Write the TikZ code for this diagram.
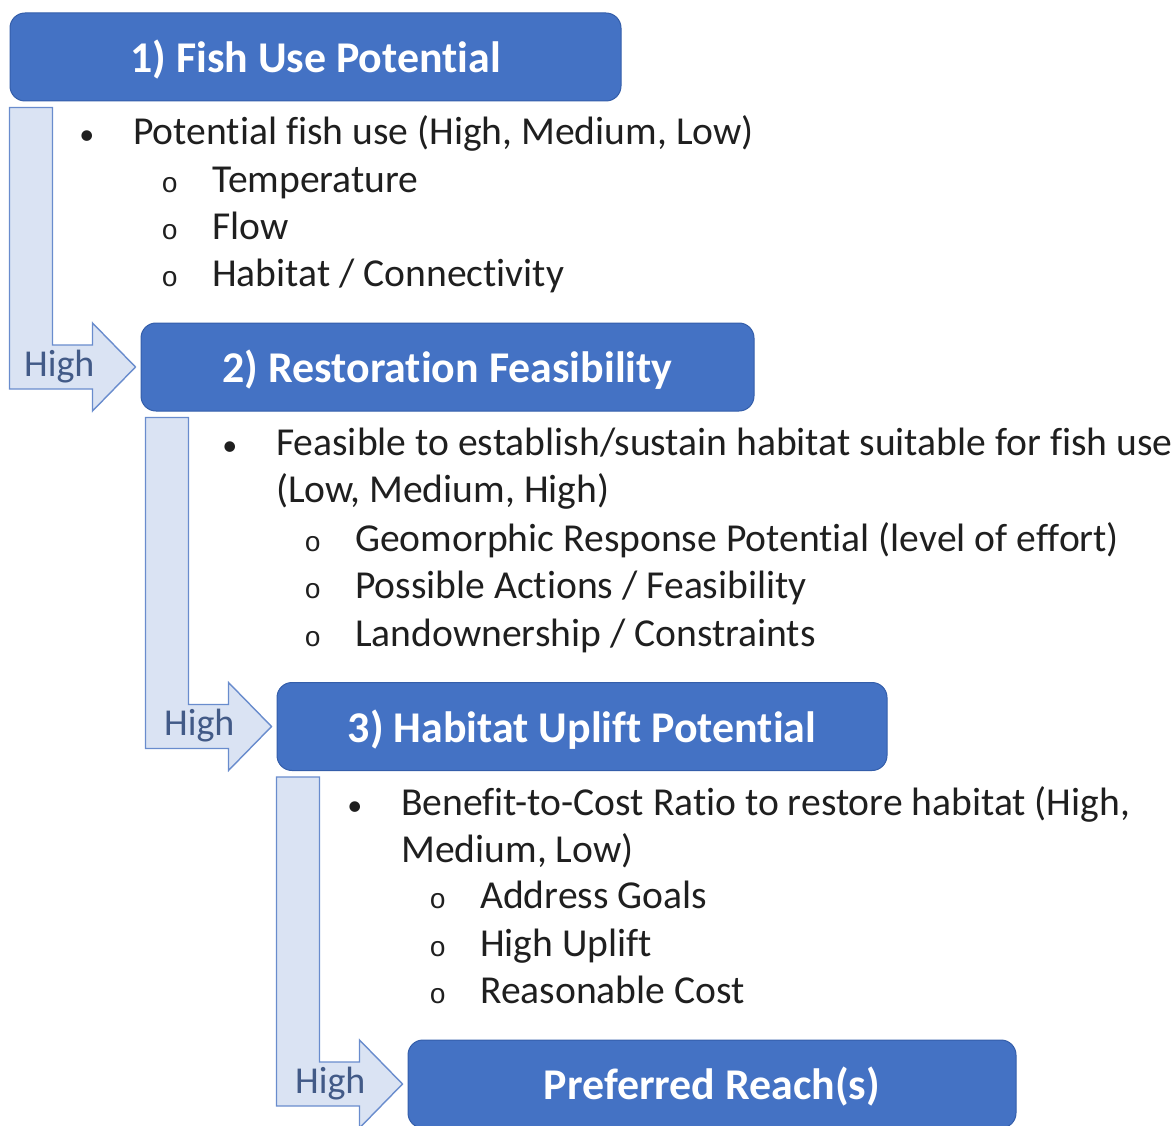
\documentclass[tikz,border=0pt]{standalone}
\usepackage{fontspec}
\setmainfont{Carlito}[Ligatures=NoCommon]
\newfontfamily\ringfont{Liberation Mono}
\usetikzlibrary{calc}

\definecolor{boxblue}{RGB}{68,114,196}
\definecolor{boxline}{RGB}{52,94,170}
\definecolor{barfill}{RGB}{218,227,243}
\definecolor{barline}{RGB}{105,140,205}
\definecolor{hightext}{RGB}{66,90,135}

% level-one and level-two list marks
\newcommand{\dotmark}{\llap{{\fontsize{30}{30}\selectfont\textbullet}\hspace{39pt}}}
\newcommand{\ringmark}{\llap{{\ringfont\fontsize{28}{28}\selectfont o}\hspace{34pt}}}

\begin{document}
\begin{tikzpicture}[x=1pt, y=-1pt]
\tikzstyle{stepbox} = [rectangle, rounded corners=15pt, minimum height=88pt, text height=37pt, text depth=6pt, draw=boxline, line width=1pt, fill=boxblue, text=white, font=\fontsize{43.9}{52}\selectfont\bfseries]
\tikzstyle{item} = [anchor=base west, inner sep=0pt, text=black!88, font=\fontsize{39.6}{47}\selectfont]
\tikzstyle{highbar} = [draw=barline, fill=barfill, line width=1.4pt, line join=miter]
\tikzstyle{highlabel} = [anchor=base west, inner sep=0pt, text=hightext, font=\fontsize{38}{45}\selectfont]

\useasboundingbox (0,0) rectangle (1176,1126);

% Steps
\node (fish) [stepbox, minimum width=611pt] at (315.5,57) {1) Fish Use Potential};
\node (restore) [stepbox, minimum width=613pt] at (447.5,367) {2) Restoration Feasibility};
\node (uplift) [stepbox, minimum width=610pt] at (582,726.5) {3) Habitat Uplift Potential};
\node (reach) [stepbox, minimum width=608pt] at (712,1084) {Preferred Reach(s)};

% Criteria for fish
\node (fishuse) [item] at (133,145) {\dotmark Potential fish use (High, Medium, Low)};
\node (temp) [item] at (212,193) {\ringmark Temperature};
\node (flow) [item] at (212,240) {\ringmark Flow};
\node (habitat) [item] at (212,287) {\ringmark Habitat / Connectivity};

% Criteria for restore
\node (feasible) [item] at (276,455) {\dotmark Feasible to establish/sustain habitat suitable for fish use};
\node (feasiblerank) [item] at (276,502) {(Low, Medium, High)};
\node (geomorph) [item] at (355,551) {\ringmark Geomorphic Response Potential (level of effort)};
\node (actions) [item] at (355,598) {\ringmark Possible Actions / Feasibility};
\node (land) [item] at (355,646) {\ringmark Landownership / Constraints};

% Criteria for uplift
\node (ratio) [item] at (401,815) {\dotmark Benefit-to-Cost Ratio to restore habitat (High,};
\node (ratiorank) [item] at (401,862) {Medium, Low)};
\node (goals) [item] at (480,908) {\ringmark Address Goals};
\node (highuplift) [item] at (480,956) {\ringmark High Uplift};
\node (cost) [item] at (480,1003) {\ringmark Reasonable Cost};

% Bent arrows from one step to the next
\draw[highbar] let \p1 = (fish.south west), \p2 = (restore.west) in
  (\x1,\y1-6pt) -- (\x1+43pt,\y1-6pt) -- (\x1+43pt,\y2+22pt) -- (\x2-48pt,\y2+22pt)
  -- (\x2-48pt,\y2+44pt) -- (\x2-5pt,\y2) -- (\x2-48pt,\y2-44pt) -- (\x2-48pt,\y2-22pt)
  -- (\x1,\y2-22pt) -- cycle
  (\x1+14pt,\y2-9pt) node[highlabel] (high1) {High};

\draw[highbar] let \p1 = (restore.south west), \p2 = (uplift.west) in
  (\x1+5pt,\y1-6pt) -- (\x1+48pt,\y1-6pt) -- (\x1+48pt,\y2+22pt) -- (\x2-48pt,\y2+22pt)
  -- (\x2-48pt,\y2+44pt) -- (\x2-5pt,\y2) -- (\x2-48pt,\y2-44pt) -- (\x2-48pt,\y2-22pt)
  -- (\x1+5pt,\y2-22pt) -- cycle
  (\x1+23pt,\y2-9pt) node[highlabel] (high2) {High};

\draw[highbar] let \p1 = (uplift.south west), \p2 = (reach.west) in
  (\x1,\y1-6pt) -- (\x1+43pt,\y1-6pt) -- (\x1+43pt,\y2+22pt) -- (\x2-48pt,\y2+22pt)
  -- (\x2-48pt,\y2+44pt) -- (\x2-5pt,\y2) -- (\x2-48pt,\y2-44pt) -- (\x2-48pt,\y2-22pt)
  -- (\x1,\y2-22pt) -- cycle
  (\x1+18pt,\y2-9pt) node[highlabel] (high3) {High};
\end{tikzpicture}
\end{document}
